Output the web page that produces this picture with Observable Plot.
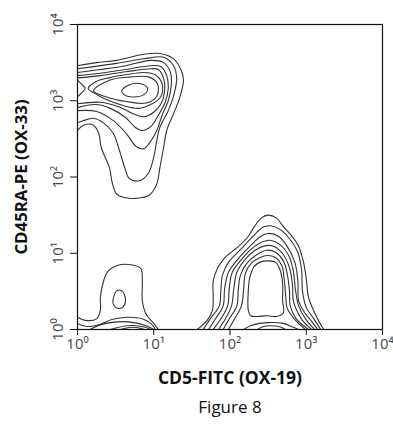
<!DOCTYPE html>
<html><head><meta charset="utf-8">
<script src="https://cdn.jsdelivr.net/npm/d3@7"></script>
<script src="https://cdn.jsdelivr.net/npm/@observablehq/plot@0.6"></script>
<style>body{margin:0;background:#fff;}</style>
</head><body><div id="chart"></div>
<script>
// Axes are log10 decades (10^0 .. 10^4)
const xTicks = [0, 1, 2, 3, 4];
const yTicks = [0, 1, 2, 3, 4];
const tickLabels = ["10⁰", "10¹", "10²", "10³", "10⁴"];
const xTitle = "CD5-FITC (OX-19)";
const yTitle = "CD45RA-PE (OX-33)";
const figureCaption = "Figure 8";

// Contour lines, [log10 CD5, log10 CD45RA]
const upperLeftOpen = [
  [[0,3.46],[0.25,3.50],[0.51,3.53],[0.87,3.61],[1.08,3.62],[1.26,3.55],[1.36,3.40],[1.39,3.27],[1.34,3.04],[1.26,2.83],[1.17,2.61],[1.13,2.39],[1.08,2.12],[1.04,1.91],[0.94,1.76],[0.77,1.72],[0.62,1.73],[0.51,1.78],[0.45,1.95],[0.42,2.12],[0.31,2.39],[0.28,2.57],[0.21,2.68],[0.08,2.68],[0,2.61]],
  [[0,3.42],[0.51,3.49],[0.87,3.55],[1.13,3.57],[1.26,3.46],[1.30,3.30],[1.27,3.10],[1.19,2.87],[1.08,2.65],[1.04,2.48],[1.00,2.26],[0.93,2.05],[0.81,1.95],[0.68,1.98],[0.62,2.12],[0.55,2.35],[0.47,2.57],[0.34,2.71],[0.21,2.77],[0.08,2.74],[0,2.71]],
  [[0,3.37],[0.30,3.41],[0.63,3.46],[0.96,3.53],[1.13,3.50],[1.22,3.37],[1.23,3.20],[1.19,3.00],[1.11,2.81],[1.04,2.61],[0.94,2.44],[0.87,2.37],[0.77,2.40],[0.64,2.57],[0.47,2.74],[0.25,2.86],[0,2.87]],
  [[0,3.33],[0.30,3.36],[0.63,3.41],[0.96,3.46],[1.09,3.45],[1.17,3.33],[1.19,3.16],[1.15,2.98],[1.06,2.81],[0.96,2.66],[0.85,2.61],[0.76,2.65],[0.63,2.78],[0.43,2.90],[0.24,2.95],[0,2.91]],
  [[0,3.30],[0.30,3.33],[0.63,3.38],[0.96,3.42],[1.06,3.41],[1.13,3.29],[1.14,3.11],[1.09,2.95],[1.00,2.85],[0.87,2.79],[0.73,2.83],[0.54,2.92],[0.30,2.98],[0,2.96]],
  [[0,3.27],[0.05,3.22],[0.10,3.16],[0.05,3.10],[0,3.05]]
];
const upperLeftClosed = [
  [[0.14,3.16],[0.24,3.25],[0.41,3.30],[0.63,3.34],[0.87,3.37],[1.02,3.34],[1.11,3.22],[1.09,3.05],[0.96,2.95],[0.80,2.90],[0.59,2.94],[0.37,3.02],[0.22,3.10]],
  [[0.21,3.13],[0.42,3.27],[0.68,3.31],[0.94,3.31],[1.05,3.22],[1.04,3.06],[0.90,2.97],[0.64,2.99],[0.38,3.05]],
  [[0.58,3.13],[0.68,3.21],[0.84,3.22],[0.92,3.16],[0.87,3.08],[0.71,3.05],[0.61,3.08]]
];
const lowerLeftOpen = [
  [[0,0.16],[0.10,0.12],[0.25,0.14],[0.30,0.25],[0.30,0.42],[0.33,0.59],[0.39,0.75],[0.52,0.84],[0.70,0.85],[0.83,0.80],[0.85,0.63],[0.85,0.38],[0.90,0.20],[1.00,0.08],[1.06,0]],
  [[0,0.08],[0.13,0.04],[0.30,0.07],[0.45,0.13],[0.65,0.16],[0.85,0.14],[0.98,0.06],[1.02,0]],
  [[0.16,0],[0.37,0.08],[0.67,0.10],[0.90,0.05],[1.00,0]],
  [[0.43,0],[0.66,0.05],[0.89,0.03],[0.96,0]],
  [[0.56,0],[0.73,0.03],[0.88,0]]
];
const lowerLeftClosed = [
  [[0.47,0.41],[0.52,0.51],[0.59,0.50],[0.63,0.38],[0.59,0.29],[0.52,0.28],[0.47,0.33]]
];
const lowerRightOpen = [
  [[1.57,0],[1.70,0.12],[1.77,0.25],[1.78,0.42],[1.78,0.64],[1.84,0.81],[1.93,0.94],[2.10,1.08],[2.23,1.21],[2.32,1.35],[2.41,1.46],[2.50,1.50],[2.61,1.46],[2.70,1.35],[2.79,1.25],[2.89,1.11],[2.96,0.90],[3.00,0.67],[3.03,0.42],[3.11,0.22],[3.17,0.10],[3.23,0]],
  [[1.65,0],[1.74,0.14],[1.86,0.31],[1.88,0.51],[1.90,0.71],[1.98,0.88],[2.14,1.05],[2.30,1.22],[2.43,1.34],[2.53,1.36],[2.66,1.31],[2.78,1.19],[2.89,1.01],[2.94,0.77],[2.95,0.51],[3.00,0.29],[3.10,0.14],[3.19,0]],
  [[1.72,0],[1.81,0.14],[1.91,0.31],[1.93,0.54],[1.98,0.75],[2.11,0.93],[2.27,1.10],[2.40,1.22],[2.50,1.26],[2.64,1.22],[2.75,1.09],[2.85,0.88],[2.89,0.64],[2.90,0.38],[2.98,0.22],[3.06,0.12],[3.15,0]],
  [[1.78,0],[1.88,0.14],[1.97,0.31],[1.99,0.54],[2.03,0.75],[2.16,0.93],[2.31,1.08],[2.43,1.15],[2.53,1.17],[2.66,1.11],[2.77,0.97],[2.83,0.77],[2.86,0.51],[2.90,0.31],[2.99,0.14],[3.11,0]],
  [[1.85,0],[1.94,0.14],[2.02,0.31],[2.05,0.54],[2.09,0.75],[2.20,0.92],[2.33,1.04],[2.47,1.10],[2.58,1.09],[2.70,0.98],[2.78,0.81],[2.82,0.58],[2.83,0.38],[2.89,0.22],[2.95,0.12],[3.07,0]],
  [[1.91,0],[1.99,0.14],[2.09,0.31],[2.11,0.54],[2.14,0.72],[2.23,0.88],[2.35,0.98],[2.48,1.04],[2.60,1.01],[2.70,0.90],[2.75,0.73],[2.78,0.51],[2.79,0.31],[2.87,0.14],[3.03,0]],
  [[1.98,0],[2.06,0.14],[2.15,0.31],[2.18,0.54],[2.20,0.73],[2.28,0.87],[2.39,0.94],[2.49,0.97],[2.60,0.94],[2.68,0.84],[2.71,0.67],[2.73,0.45],[2.75,0.28],[2.86,0.12],[2.99,0]],
  [[2.18,0],[2.27,0.05],[2.49,0.09],[2.70,0.08],[2.83,0.03],[2.90,0]],
  [[2.36,0],[2.44,0.04],[2.53,0.05],[2.64,0.04],[2.73,0]]
];
const lowerRightClosed = [
  [[2.24,0.25],[2.24,0.51],[2.26,0.68],[2.32,0.83],[2.41,0.89],[2.50,0.90],[2.60,0.88],[2.66,0.77],[2.69,0.60],[2.69,0.38],[2.70,0.22],[2.61,0.17],[2.49,0.18],[2.36,0.17],[2.27,0.18]]
];

const toRows = (contours, prefix) =>
  contours.flatMap((c, i) => c.map(([x, y]) => ({x, y, id: prefix + i})));
const openRows = [
  ...toRows(upperLeftOpen, "ulo"),
  ...toRows(lowerLeftOpen, "llo"),
  ...toRows(lowerRightOpen, "lro")
];
const closedRows = [
  ...toRows(upperLeftClosed, "ulc"),
  ...toRows(lowerLeftClosed, "llc"),
  ...toRows(lowerRightClosed, "lrc")
];

const fmt = d => tickLabels[d];
const font = "'Open Sans', 'Noto Sans', sans-serif";

const chart = Plot.plot({
  width: 393,
  height: 429,
  marginLeft: 77,
  marginRight: 11,
  marginTop: 24,
  marginBottom: 100,
  style: {fontFamily: font, background: "#fff"},
  x: {domain: [0, 4]},
  y: {domain: [0, 4]},
  marks: [
    Plot.line(openRows, {x: "x", y: "y", z: "id", curve: "catmull-rom", stroke: "#333", strokeWidth: 1.1, clip: true}),
    Plot.line(closedRows, {x: "x", y: "y", z: "id", curve: "catmull-rom-closed", stroke: "#333", strokeWidth: 1.1, clip: true}),
    Plot.frame({stroke: "#111", strokeWidth: 1.2}),
    Plot.axisX(xTicks, {tickSize: 6, tickPadding: 3, tickFormat: fmt, fontSize: 15, color: "#4a4a4a", stroke: "#111", label: null}),
    Plot.axisY(yTicks, {tickSize: 7, tickFormat: () => "", stroke: "#111", label: null}),
    Plot.text(yTicks, {x: 0, y: d => d, text: fmt, rotate: -90, dx: -15, lineAnchor: "bottom", textAnchor: "middle", fontSize: 15, fill: "#4a4a4a"}),
    Plot.text([xTitle], {frameAnchor: "bottom", dy: 54, text: d => d, textAnchor: "middle", fontSize: 17.5, fontWeight: "bold", fill: "#111"}),
    Plot.text([yTitle], {frameAnchor: "left", dx: -56, rotate: -90, text: d => d, textAnchor: "middle", fontSize: 16.8, fontWeight: "bold", fill: "#111"}),
    Plot.text([figureCaption], {frameAnchor: "bottom", dy: 83, text: d => d, textAnchor: "middle", fontSize: 17, fill: "#111"})
  ]
});
document.getElementById("chart").appendChild(chart);
</script>
</body></html>
